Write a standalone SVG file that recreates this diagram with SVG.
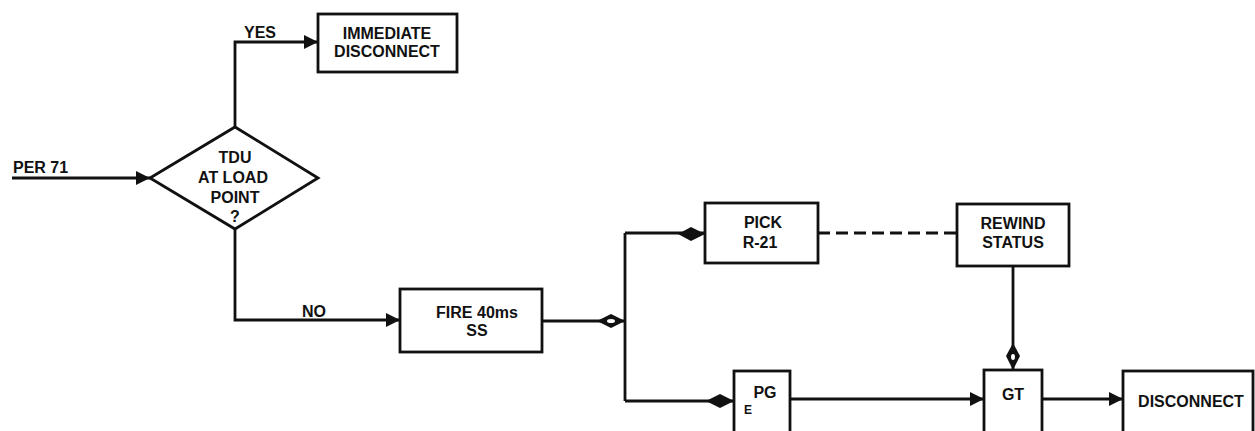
<svg xmlns="http://www.w3.org/2000/svg" width="1255" height="431" viewBox="0 0 1255 431">
<defs>
<style>
.box{fill:#fff;stroke:#111;stroke-width:2.8}
.ln{fill:none;stroke:#111;stroke-width:2.8}
.dash{fill:none;stroke:#111;stroke-width:2.8;stroke-dasharray:12 6}
text{font-family:"Liberation Sans",Arial,sans-serif;font-weight:bold;font-size:16px;fill:#111;text-anchor:middle}
.lft{text-anchor:start}
.sm{font-size:12px}
.jf{fill:#111}
.hole{fill:#fff}
</style>
<marker id="arr" viewBox="0 0 10 10" refX="10" refY="5" markerWidth="17" markerHeight="14" markerUnits="userSpaceOnUse" orient="auto">
<path d="M0,0 L10,5 L0,10 z" fill="#111"/>
</marker>
</defs>
<rect width="1255" height="431" fill="#fff"/>
<g id="connectors">
<path class="ln" d="M12,178 H150" marker-end="url(#arr)"/>
<path class="ln" d="M235,127 V42 H318" marker-end="url(#arr)"/>
<path class="ln" d="M235,229 V320 H400" marker-end="url(#arr)"/>
<path class="ln" d="M542,321 H625 M625,233 V401"/>
<path class="ln" d="M625,233 H705"/>
<path class="ln" d="M625,401 H734"/>
<path class="dash" d="M818,233 H957"/>
<path class="ln" d="M1013,266 V370"/>
<path class="ln" d="M790,399 H984" marker-end="url(#arr)"/>
<path class="ln" d="M1042,399 H1123" marker-end="url(#arr)"/>
<polygon class="jf" points="597,321 611,314 625,321 611,328"/>
<ellipse class="hole" cx="611" cy="321" rx="4" ry="2"/>
<polygon class="jf" points="678,234 691,227 705,234 691,241"/>
<polygon class="jf" points="706,401 720,394 734,401 720,408"/>
<polygon class="jf" points="1013,343 1020,356 1013,370 1006,356"/>
<ellipse class="hole" cx="1013" cy="357" rx="2" ry="3"/>
<text class="lft" x="13" y="173">PER 71</text>
<text x="260" y="38">YES</text>
<text x="314" y="317">NO</text>
</g>
<g id="decision">
<polygon class="box" points="150,178 235,127 318,178 235,229"/>
<text x="235" y="163">TDU</text>
<text x="233" y="183">AT LOAD</text>
<text x="235" y="203">POINT</text>
<text x="235" y="222">?</text>
</g>
<g id="immediate">
<rect class="box" x="318" y="14" width="139" height="58"/>
<text x="387" y="39">IMMEDIATE</text>
<text x="387" y="57">DISCONNECT</text>
</g>
<g id="fire">
<rect class="box" x="400" y="289" width="142" height="63"/>
<text x="477" y="318">FIRE 40ms</text>
<text x="477" y="336">SS</text>
</g>
<g id="pick">
<rect class="box" x="705" y="203" width="113" height="60"/>
<text x="763" y="228">PICK</text>
<text x="760" y="248">R-21</text>
</g>
<g id="rewind">
<rect class="box" x="957" y="204" width="112" height="62"/>
<text x="1013" y="229">REWIND</text>
<text x="1013" y="248">STATUS</text>
</g>
<g id="pg">
<rect class="box" x="734" y="371" width="56" height="70"/>
<text x="765" y="398">PG</text>
<text class="sm" x="748" y="414">E</text>
</g>
<g id="gt">
<rect class="box" x="984" y="370" width="58" height="70"/>
<text x="1013" y="400">GT</text>
</g>
<g id="disconnect">
<rect class="box" x="1123" y="371" width="130" height="70"/>
<text x="1191" y="407">DISCONNECT</text>
</g>
</svg>
